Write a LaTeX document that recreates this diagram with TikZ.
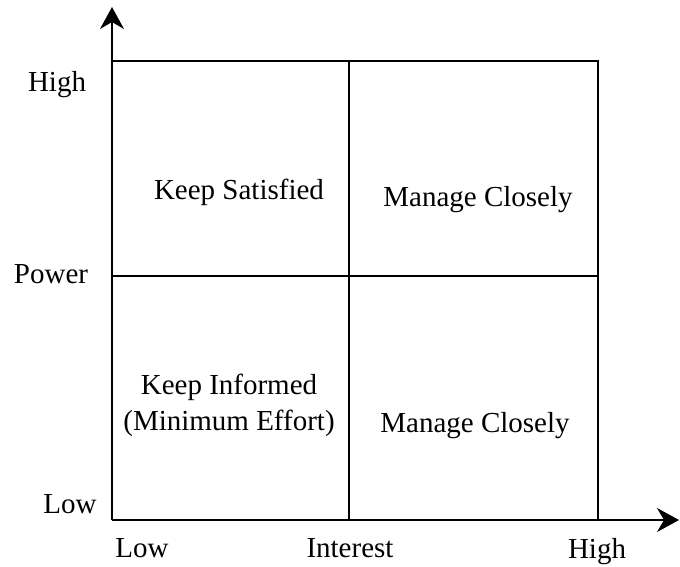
\documentclass[tikz,border=0pt]{standalone}
\usepackage{fontspec}
\setmainfont{Liberation Serif}
\usetikzlibrary{arrows.meta}
\begin{document}
\begin{tikzpicture}[x=1pt,y=-1pt,
  lbl/.style={font=\fontsize{29}{36}\selectfont, inner sep=0pt, anchor=center},
  box/.style={line width=1.6pt},
  mid/.style={line width=2.2pt},
  axis/.style={line width=2pt, -{Stealth[length=22pt,width=24pt,inset=7pt]}}]
\useasboundingbox (0,0) rectangle (680,566);
\coordinate (O) at (112,520);
\coordinate (ytop) at (112,7);
\coordinate (xend) at (679,520);
\coordinate (TL) at (112,61);
\coordinate (TR) at (598,61);
\coordinate (BR) at (598,520);
\coordinate (MT) at (349,61);
\coordinate (MB) at (349,520);
\coordinate (ML) at (112,276);
\coordinate (MR) at (598,276);
\draw[axis] (O) -- (ytop);
\draw[axis] (O) -- (xend);
\draw[box] (TL) -- (TR) -- (BR);
\draw[mid] (MT) -- (MB);
\draw[mid] (ML) -- (MR);
\node[lbl] (yhigh) at (57,85) {High};
\node[lbl] (ypow) at (51,274) {Power};
\node[lbl] (ylow) at (70,504) {Low};
\node[lbl] (xlow) at (142,548) {Low};
\node[lbl] (xint) at (350,548) {Interest};
\node[lbl] (xhigh) at (597,552) {High};
\node[lbl] (q1) at (239,192) {Keep Satisfied};
\node[lbl] (q2) at (478,200) {Manage Closely};
\node[lbl, align=center] (q3) at (229,405) {Keep Informed\\(Minimum Effort)};
\node[lbl] (q4) at (475,426) {Manage Closely};
\end{tikzpicture}
\end{document}
